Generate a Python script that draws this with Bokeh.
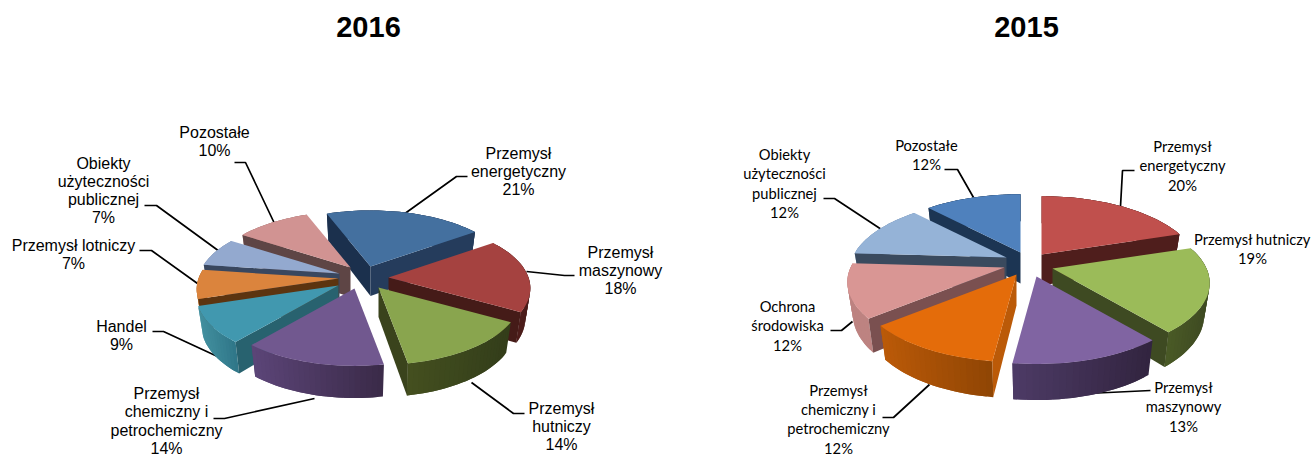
import math
from bokeh.plotting import figure
from bokeh.core.properties import value
from bokeh.embed import file_html
from bokeh.resources import INLINE

# ---- data ----
TITLE_A = "2016"
LABELS_A = ["Przemysł\nenergetyczny", "Przemysł\nmaszynowy", "Przemysł\nhutniczy",
            "Przemysł\nchemiczny i\npetrochemiczny", "Handel", "Przemysł lotniczy",
            "Obiekty\nużyteczności\npublicznej", "Pozostałe"]
VALUES_A = [21, 18, 14, 14, 9, 7, 7, 10]

TITLE_B = "2015"
LABELS_B = ["Przemysł\nenergetyczny", "Przemysł hutniczy", "Przemysł\nmaszynowy",
            "Przemysł\nchemiczny i\npetrochemiczny", "Ochrona\nśrodowiska",
            "Obiekty\nużyteczności\npublicznej", "Pozostałe"]
VALUES_B = [20, 19, 13, 12, 12, 12, 12]

# ---- style: per slice colours (top, start wall, end wall, rim left, rim right) ----
COL_A = [("#44709f", "#1b304d", "#253c5c", "#253c5c", "#253c5c"),
         ("#a54240", "#451b18", "#451b18", "#5a211f", "#4a1c1a"),
         ("#89a54e", "#3a431c", "#3a431c", "#44501f", "#333d1a"),
         ("#71588f", "#4e3c6b", "#4e3c6b", "#5c4578", "#3a2a48"),
         ("#4198af", "#28626f", "#28626f", "#43909f", "#2f7688"),
         ("#db843d", "#5c3410", "#5c3410", "#b8702f", "#a5652b"),
         ("#93a9cf", "#39475f", "#39475f", "#7f93b2", "#7f93b2"),
         ("#d19392", "#5e4545", "#5e4545", "#a97a78", "#a97a78")]
COL_B = [("#c0504d", "#4f1e1c", "#4f1e1c", "#5a2220", "#4f1e1c"),
         ("#9bbb59", "#3e4a22", "#3e4a22", "#4a5a26", "#3e4a22"),
         ("#8064a2", "#4d3b66", "#4d3b66", "#4d3b66", "#32243f"),
         ("#e46c0a", "#bb5a08", "#bb5a08", "#bb5a08", "#8f4504"),
         ("#d99694", "#7a5050", "#7a5050", "#bd8381", "#bd8381"),
         ("#95b3d7", "#3a4a5e", "#3a4a5e", "#7d97b8", "#7d97b8"),
         ("#4f81bd", "#1c3553", "#1c3553", "#1c3553", "#1c3553")]

# ---- layout ----
GEOM_A = dict(start=-21, cx=362, cy=277, A=140, B=65, k=0.16, D=29.5, kd=0.08, sxb=0.965)
GEOM_B = dict(start=0, cx=1028, cy=265, A=154, B=70, k=0.20, D=31, kd=0.14, sxb=0.965)
EXPLODE_A = [(8, -11), (26, 0), (16, 10), (-8, 11), (-24, 8), (-24, 1), (-23, -4), (-12, -10)]
EXPLODE_B = [(13, -11), (24, 3), (8, 11), (-12, 9), (-24, 2), (-22, -8), (-8, -13)]

# label anchor: centre x, y of first line
LABEL_POS_A = [(518, 152.5), (620, 251.5), (561, 407.5), (166, 393), (121, 325.5), (73, 244.5), (103, 162.5), (214, 131.5)]
LABEL_POS_B = [(1182, 145.5), (1252, 238.5), (1183, 386.5), (838, 389), (787, 305.5), (784, 153.5), (926, 144.5)]
LINE_H_A = 18.3
LINE_H_B = 19.4

LEADERS_A = [[(403, 214), (456, 176), (467, 176)], [(526, 271), (564, 275), (574, 275)],
             [(471, 382), (513, 413), (524, 413)], [(314, 398), (224, 418), (213, 418)],
             [(217, 356), (163, 331), (152, 331)], [(197, 283), (151, 250), (139, 250)],
             [(219, 251), (156, 205), (144, 205)], [(274, 223), (245, 162), (234, 162)]]
LEADERS_B = [[(1120, 206), (1122, 170), (1134, 170)], [(1087, 393), (1150, 390)],
             [(929, 384), (893, 417), (882, 417)], [(852, 321), (841, 330), (830, 330)],
             [(881, 229), (834, 198), (823, 198)], [(973, 197), (957, 169), (944, 169)]]


def mix(c1, c2, t):
    a = [int(c1[i:i + 2], 16) for i in (1, 3, 5)]
    b = [int(c2[i:i + 2], 16) for i in (1, 3, 5)]
    return "#%02x%02x%02x" % tuple(round(p + (q - p) * t) for p, q in zip(a, b))


def build_pie(values, geom, explode, colours):
    """Turn the values into back-to-front polygons of an exploded 3D pie."""
    total = sum(values)
    A, B, k, D, kd, sxb = (geom[n] for n in ("A", "B", "k", "D", "kd", "sxb"))
    spans = []
    ang = geom["start"]
    for v in values:
        step = 360.0 * v / total
        spans.append((ang, ang + step))
        ang += step
    order = sorted(range(len(values)),
                   key=lambda i: -math.cos(math.radians(sum(spans[i]) / 2)))
    xs, ys, cols = [], [], []

    def add(px, py, c):
        xs.append(px); ys.append(py); cols.append(c)

    for i in order:
        a0, a1 = spans[i]
        ax = geom["cx"] + explode[i][0]
        ay = geom["cy"] + explode[i][1]
        n = max(6, int((a1 - a0) / 2))
        top, bottom = [], []
        for j in range(n + 1):
            t = math.radians(a0 + (a1 - a0) * j / n)
            u, v = math.sin(t), math.cos(t)
            s = 1.0 / (1 + k * v)
            tx, ty = ax + A * u * s, ay - B * v * s
            top.append((tx, ty))
            bottom.append((ax + A * u * s * sxb, ty + D / (1 + kd * v)))
        ctop, cs, ce, cl, cr = colours[i]
        # rim wall, shaded from left to right; each strip overlaps the next one
        xmin = min(p[0] for p in top)
        xmax = max(p[0] for p in top)
        for j in range(n):
            e = min(j + 2, n)
            mid = (top[j][0] + top[j + 1][0]) / 2
            c = mix(cl, cr, (mid - xmin) / max(xmax - xmin, 1))
            px = [q[0] for q in top[j:e + 1]] + [q[0] for q in bottom[j:e + 1]][::-1]
            py = [q[1] for q in top[j:e + 1]] + [q[1] for q in bottom[j:e + 1]][::-1]
            add(px, py, c)
        # radial walls: only the ones that face the viewer
        mx, my = top[n // 2][0] - ax, top[n // 2][1] - ay
        for idx, c in ((0, cs), (-1, ce)):
            dx, dy = top[idx][0] - ax, top[idx][1] - ay
            if (dx * my - dy * mx) * dx < 0:
                add([ax, top[idx][0], bottom[idx][0], ax],
                    [ay, top[idx][1], bottom[idx][1], ay + D], c)
        # top face
        add([ax] + [p[0] for p in top], [ay] + [p[1] for p in top], ctop)
    return xs, ys, cols


def label_rows(labels, values, pos, line_h):
    rx, ry, rt = [], [], []
    for lab, val, (x, y) in zip(labels, values, pos):
        rows = lab.split("\n") + ["%d%%" % val]
        for r, row in enumerate(rows):
            rx.append(x); ry.append(y + r * line_h); rt.append(row)
    return rx, ry, rt


p = figure(width=1313, height=457, x_range=(0, 1313), y_range=(457, 0),
           output_backend="svg", toolbar_location=None, min_border=0)
p.xaxis.visible = False
p.yaxis.visible = False
p.grid.visible = False
p.outline_line_color = None

for leaders in (LEADERS_A, LEADERS_B):
    p.multi_line([[q[0] for q in l] for l in leaders], [[q[1] for q in l] for l in leaders],
                 line_color="#000000", line_width=1.7)

for vals, geom, exp, cols in ((VALUES_A, GEOM_A, EXPLODE_A, COL_A), (VALUES_B, GEOM_B, EXPLODE_B, COL_B)):
    xs, ys, cc = build_pie(vals, geom, exp, cols)
    p.patches(xs, ys, fill_color=cc, fill_alpha=1.0, line_color=None)

rx, ry, rt = label_rows(LABELS_A, VALUES_A, LABEL_POS_A, LINE_H_A)
p.text(rx, ry, text=rt, text_align="center", text_baseline="middle", text_color="#000000",
       text_font=value("Liberation Sans"), text_font_size="16px")
rx, ry, rt = label_rows(LABELS_B, VALUES_B, LABEL_POS_B, LINE_H_B)
p.text(rx, ry, text=rt, text_align="center", text_baseline="middle", text_color="#000000",
       text_font=value("Lato"), text_font_size="14.7px")

p.text([368, 1026], [26, 26], text=[TITLE_A, TITLE_B], text_align="center", text_baseline="middle",
       text_color="#000000", text_font=value("Liberation Sans"), text_font_style="bold",
       text_font_size="29px")

open("out.html", "w").write(file_html(p, INLINE))
